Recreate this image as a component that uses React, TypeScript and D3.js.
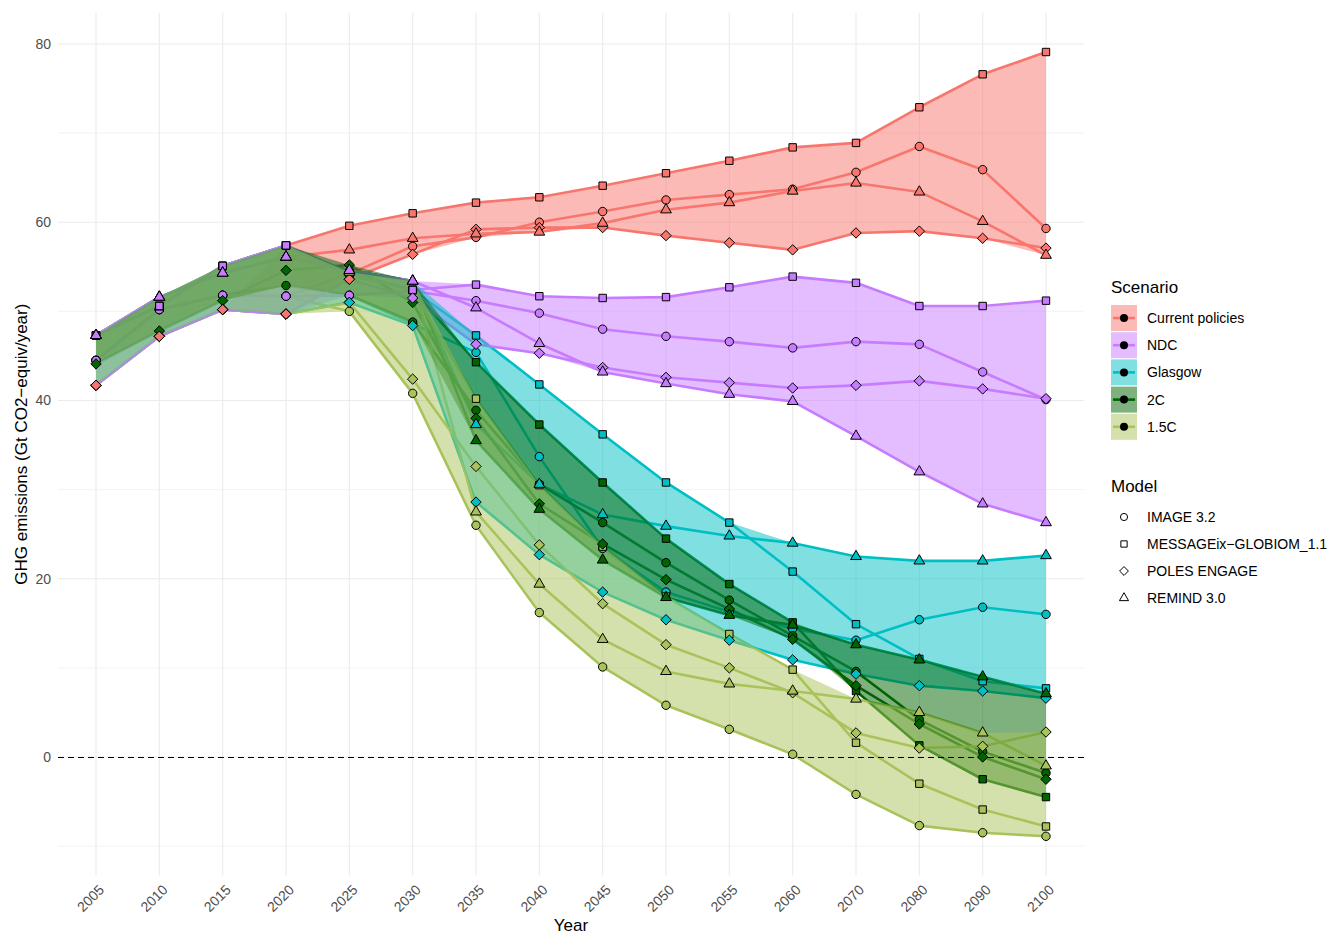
import React from "react";
import * as d3 from "d3";

// ---------- data ----------
const years = ["2005","2010","2015","2020","2025","2030","2035","2040","2045","2050","2055","2060","2070","2080","2090","2100"];
const scenarios = ["Current policies", "NDC", "Glasgow", "2C", "1.5C"];
const scenarioColors = ["#F8766D", "#C77CFF", "#00BFC4", "#006400", "#A9C35B"];
const models = ["IMAGE 3.2", "MESSAGEix\u2212GLOBIOM_1.1", "POLES ENGAGE", "REMIND 3.0"];
const modelShapes = ["circle", "square", "diamond", "triangle"];
const yTicks = [0, 20, 40, 60, 80];
const yMinorTicks = [-10, 10, 30, 50, 70];

type V = number | null;
// Current policies
const cpImage: V[] = [null, null, null, 51.7, 54.2, 57.3, 58.3, 60.0, 61.2, 62.5, 63.1, 63.7, 65.6, 68.5, 65.9, 59.3];
const cpMessage: V[] = [null, null, null, 57.4, 59.6, 61.0, 62.2, 62.8, 64.1, 65.5, 66.9, 68.4, 68.9, 72.9, 76.6, 79.1];
const cpPoles: V[] = [41.7, 47.2, 50.2, 49.7, 53.6, 56.4, 59.2, 59.4, 59.4, 58.5, 57.7, 56.9, 58.8, 59.0, 58.2, 57.1];
const cpRemind: V[] = [null, null, null, 56.1, 56.9, 58.2, 58.7, 58.9, 59.9, 61.4, 62.2, 63.5, 64.4, 63.4, 60.1, 56.3];
// NDC
const ndcImage: V[] = [44.5, 50.2, 51.8, 51.7, 51.8, 52.3, 51.2, 49.8, 48.0, 47.2, 46.6, 45.9, 46.6, 46.3, 43.2, 40.1];
const ndcMessage: V[] = [47.3, 50.6, 55.1, 57.4, 54.3, 52.4, 53.0, 51.7, 51.5, 51.6, 52.7, 53.9, 53.2, 50.6, 50.6, 51.2];
const ndcPoles: V[] = [41.7, 47.2, 50.2, 49.7, 53.6, 51.5, 46.3, 45.3, 43.7, 42.6, 42.0, 41.4, 41.7, 42.2, 41.3, 40.2];
const ndcRemind: V[] = [47.3, 51.6, 54.3, 56.1, 54.6, 53.4, 50.4, 46.4, 43.2, 41.9, 40.7, 39.9, 36.0, 32.0, 28.4, 26.3];
// Glasgow
const glaImage: V[] = [44.5, 50.2, 51.8, 51.7, 51.8, 48.6, 45.4, 33.7, 23.4, 18.5, 16.3, 14.4, 13.1, 15.4, 16.8, 16.0];
const glaMessage: V[] = [47.3, 50.6, 55.1, 57.4, 54.3, 52.4, 47.3, 41.8, 36.2, 30.8, 26.3, 20.8, 14.9, 11.0, 8.5, 7.7];
const glaPoles: V[] = [41.7, 47.2, 50.2, 49.7, 51.0, 48.4, 28.6, 22.7, 18.5, 15.4, 13.1, 10.9, 9.3, 8.0, 7.4, 6.6];
const glaRemind: V[] = [47.3, 51.6, 54.3, 56.1, 54.6, 53.4, 37.3, 30.6, 27.2, 25.9, 24.8, 24.0, 22.5, 22.0, 22.0, 22.6];
// 2C
const c2Image: V[] = [44.5, 50.2, 51.8, 52.9, 51.8, 48.8, 38.9, 30.6, 26.3, 21.8, 17.6, 13.6, 9.6, 4.2, 0.6, -1.8];
const c2Message: V[] = [47.3, 50.6, 55.1, 57.4, 54.3, 52.4, 44.3, 37.3, 30.8, 24.5, 19.4, 15.1, 7.4, 1.3, -2.5, -4.5];
const c2Poles: V[] = [44.1, 47.8, 51.2, 54.6, 55.2, 51.0, 38.0, 28.4, 23.9, 19.9, 16.6, 13.2, 8.0, 3.7, 0.0, -2.5];
const c2Remind: V[] = [47.3, 51.6, 54.3, 56.1, 54.6, 53.4, 35.5, 27.8, 22.1, 17.9, 15.9, 14.8, 12.6, 10.9, 9.0, 7.1];
// 1.5C
const c15Image: V[] = [44.5, 50.2, 51.8, 51.7, 50.0, 40.8, 26.0, 16.2, 10.1, 5.8, 3.1, 0.3, -4.2, -7.7, -8.5, -8.9];
const c15Message: V[] = [47.3, 50.6, 55.1, 57.4, 54.0, 52.4, 40.2, 30.5, 23.6, 18.0, 13.8, 9.8, 1.6, -3.0, -5.9, -7.8];
const c15Poles: V[] = [41.7, 47.2, 50.2, 49.7, 51.0, 42.4, 32.6, 23.8, 17.2, 12.6, 10.0, 7.2, 2.7, 1.0, 1.2, 2.8];
const c15Remind: V[] = [47.3, 51.6, 54.3, 56.1, 54.4, 53.4, 27.5, 19.4, 13.2, 9.6, 8.2, 7.4, 6.5, 5.0, 2.7, -1.0];

const scenarioData: V[][][] = [
  [cpImage, cpMessage, cpPoles, cpRemind],
  [ndcImage, ndcMessage, ndcPoles, ndcRemind],
  [glaImage, glaMessage, glaPoles, glaRemind],
  [c2Image, c2Message, c2Poles, c2Remind],
  [c15Image, c15Message, c15Poles, c15Remind],
];

// drawing orders
const lineOrder = [0, 2, 3, 4, 1];
const ribbonOrder = [0, 1, 2, 3, 4];
// per model: order of scenarios when drawing points
const pointScenarioOrder = [
  [4, 2, 3, 0, 1],
  [4, 2, 3, 0, 1],
  [4, 2, 3, 1, 0],
  [4, 2, 3, 0, 1],
];

const FONT = "'Liberation Sans', Arial, Helvetica, sans-serif";

function shapePath(shape: string, cx: number, cy: number, k = 1): string {
  const r = 4.2 * k;
  if (shape === "circle") {
    return `M${cx - r},${cy}A${r},${r} 0 1,0 ${cx + r},${cy}A${r},${r} 0 1,0 ${cx - r},${cy}Z`;
  }
  if (shape === "square") {
    const h = 3.7 * k;
    return `M${cx - h},${cy - h}H${cx + h}V${cy + h}H${cx - h}Z`;
  }
  if (shape === "diamond") {
    const h = 5.2 * k;
    return `M${cx},${cy - h}L${cx + h},${cy}L${cx},${cy + h}L${cx - h},${cy}Z`;
  }
  const t = 6.2 * k;
  const hw = (t * Math.sqrt(3)) / 2;
  return `M${cx},${cy - t}L${cx + hw},${cy + t / 2}L${cx - hw},${cy + t / 2}Z`;
}

export default function App() {
  const W = 1328, H = 934;
  const panel = { left: 58, right: 1084, top: 12.8, bottom: 875.5 };

  const x = d3.scalePoint<string>().domain(years).range([panel.left, panel.right]).padding(0.6);
  const allVals = scenarioData.flat(2).filter((v): v is number => v != null);
  const lo = d3.min(allVals) as number;
  const hi = d3.max(allVals) as number;
  const pad = (hi - lo) * 0.05;
  const y = d3.scaleLinear().domain([lo - pad, hi + pad]).range([panel.bottom, panel.top]);

  const line = d3
    .line<V>()
    .defined((d) => d != null)
    .x((_, i) => x(years[i]) as number)
    .y((d) => y(d as number));

  type RB = { yr: string; min: number | null; max: number | null };
  const area = d3
    .area<RB>()
    .defined((d) => d.min != null)
    .x((d) => x(d.yr) as number)
    .y0((d) => y(d.min as number))
    .y1((d) => y(d.max as number));

  const ribbonRows = (si: number): RB[] =>
    years.map((yr, i) => {
      const vals = scenarioData[si].map((m) => m[i]).filter((v): v is number => v != null);
      return { yr, min: vals.length ? (d3.min(vals) as number) : null, max: vals.length ? (d3.max(vals) as number) : null };
    });

  const points: { si: number; mi: number; i: number; v: number }[] = [];
  models.forEach((_, mi) => {
    pointScenarioOrder[mi].forEach((si) => {
      scenarioData[si][mi].forEach((v, i) => {
        if (v != null) points.push({ si, mi, i, v });
      });
    });
  });

  const legX = 1111;
  const scenKeyY = (k: number) => 318 + k * 27.2;
  const modelKeyY = (k: number) => 517 + k * 27;
  const zeroY = Math.round(y(0)) + 0.5;

  return (
    <div style={{ position: "absolute", left: 0, top: 0 }}>
      <svg width={W} height={H} style={{ display: "block", background: "#fff" }} fontFamily={FONT}>
        {/* grid */}
        <g>
          {yMinorTicks.map((t) => (
            <line key={"mn" + t} x1={panel.left} x2={panel.right} y1={y(t)} y2={y(t)} stroke="#EBEBEB" strokeWidth={0.6} />
          ))}
          {yTicks.map((t) => (
            <line key={"mj" + t} x1={panel.left} x2={panel.right} y1={y(t)} y2={y(t)} stroke="#EBEBEB" strokeWidth={1.1} />
          ))}
          {years.map((yr) => (
            <line key={"vx" + yr} x1={x(yr)} x2={x(yr)} y1={panel.top} y2={panel.bottom} stroke="#EBEBEB" strokeWidth={1.1} />
          ))}
        </g>

        {/* lines (under ribbons) */}
        <g fill="none">
          {lineOrder.map((si) =>
            scenarioData[si].map((vals, mi) => (
              <path key={`l${si}-${mi}`} d={line(vals) || ""} stroke={scenarioColors[si]} strokeWidth={2.6} strokeLinejoin="round" />
            ))
          )}
        </g>

        {/* ribbons */}
        <g>
          {ribbonOrder.map((si) => (
            <path key={"r" + si} d={area(ribbonRows(si)) || ""} fill={scenarioColors[si]} fillOpacity={0.5} stroke="none" />
          ))}
        </g>

        {/* zero line */}
        <line x1={panel.left} x2={panel.right} y1={zeroY} y2={zeroY} stroke="#000" strokeWidth={1.2} strokeDasharray="6,4" />

        {/* points */}
        <g stroke="#000" strokeWidth={1}>
          {points.map((p, k) => (
            <path key={"p" + k} d={shapePath(modelShapes[p.mi], x(years[p.i]) as number, y(p.v))} fill={scenarioColors[p.si]} />
          ))}
        </g>

        {/* y axis labels */}
        <g fontSize={14} fill="#4D4D4D" textAnchor="end">
          {yTicks.map((t) => (
            <text key={"yt" + t} x={51} y={y(t)} dy="0.35em">
              {t}
            </text>
          ))}
        </g>

        {/* x axis labels */}
        <g fontSize={14} fill="#4D4D4D" textAnchor="end">
          {years.map((yr) => (
            <text key={"xt" + yr} transform={`translate(${(x(yr) as number) + 2},${panel.bottom + 8}) rotate(-45)`} dy="0.72em">
              {yr}
            </text>
          ))}
        </g>

        {/* axis titles */}
        <text x={(panel.left + panel.right) / 2} y={931} textAnchor="middle" fontSize={17} fill="#000">
          Year
        </text>
        <text transform={`translate(27,${(panel.top + panel.bottom) / 2}) rotate(-90)`} textAnchor="middle" fontSize={17} fill="#000">
          GHG emissions (Gt CO2{"\u2212"}equiv/year)
        </text>

        {/* legend: scenario */}
        <text x={legX} y={293} fontSize={17} fill="#000">
          Scenario
        </text>
        {scenarios.map((s, k) => {
          const cy = scenKeyY(k);
          return (
            <g key={"ls" + s}>
              <rect x={legX} y={cy - 13} width={26} height={26} fill={scenarioColors[k]} fillOpacity={0.5} />
              <line x1={legX + 2} x2={legX + 24} y1={cy} y2={cy} stroke={scenarioColors[k]} strokeWidth={2.6} />
              <circle cx={legX + 13} cy={cy} r={4} fill="#000" />
              <text x={legX + 36} y={cy} dy="0.35em" fontSize={14} fill="#000">
                {s}
              </text>
            </g>
          );
        })}

        {/* legend: model */}
        <text x={legX} y={492} fontSize={17} fill="#000">
          Model
        </text>
        {models.map((m, k) => {
          const cy = modelKeyY(k);
          return (
            <g key={"lm" + m}>
              <path d={shapePath(modelShapes[k], legX + 13, cy, 0.85)} fill="none" stroke="#000" strokeWidth={1} />
              <text x={legX + 36} y={cy} dy="0.35em" fontSize={14} fill="#000">
                {m}
              </text>
            </g>
          );
        })}
      </svg>
    </div>
  );
}
